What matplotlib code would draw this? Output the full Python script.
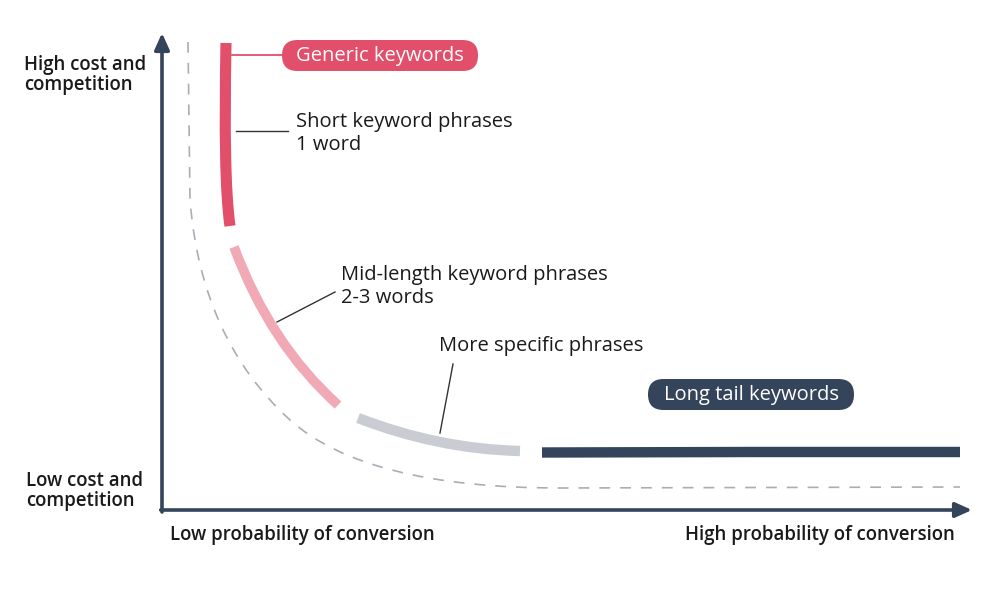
import matplotlib
matplotlib.use("Agg")
import matplotlib.pyplot as plt
from matplotlib.patches import FancyBboxPatch, PathPatch
from matplotlib.path import Path

plt.rcParams['font.family'] = ['Open Sans', 'DejaVu Sans']

# Curve segments as Bezier vertices (pixel coordinates, y downwards)
# short: cubic (start, ctrl, ctrl, end)
short_x = [226, 224.5, 225, 230]
short_y = [43, 130, 190, 226]
# mid-length: quadratic (start, ctrl, end)
mid_x = [234, 270, 338]
mid_y = [247, 344, 405]
# more specific: quadratic (start, ctrl, end)
specific_x = [358, 438, 520]
specific_y = [418, 449, 451]
# long tail: polyline
longtail_x = [542, 750, 960]
longtail_y = [452.5, 452, 452]
# dashed: line, quad, quad, line
dashed_x = [188, 190, 201, 290, 366, 560, 960]
dashed_y = [42, 200, 339, 420, 488, 488, 487]

labels = {
    'generic': 'Generic keywords',
    'short': 'Short keyword phrases',
    'short_sub': '1 word',
    'mid': 'Mid-length keyword phrases',
    'mid_sub': '2-3 words',
    'specific': 'More specific phrases',
    'longtail': 'Long tail keywords',
    'ytop': 'High cost and\ncompetition',
    'ybot': 'Low cost and\ncompetition',
    'xleft': 'Low probability of conversion',
    'xright': 'High probability of conversion',
}

RED = '#e14f6a'
PINK = '#f0a9b5'
GREY = '#c9cdd3'
DARK = '#34445a'
TXT = '#1a1a1a'

fig = plt.figure(figsize=(10.01, 6.0), dpi=100)
ax = fig.add_axes([0, 0, 1, 1])
ax.set_xlim(0, 1001)
ax.set_ylim(600, 0)
ax.axis('off')

def bez(xs, ys, codes, **kw):
    p = PathPatch(Path(list(zip(xs, ys)), codes), fill=False, capstyle='butt', **kw)
    ax.add_patch(p)

# axes arrows
ax.annotate('', xy=(162, 33), xytext=(162, 512),
            arrowprops=dict(arrowstyle='-|>,head_length=1.0,head_width=0.45', color=DARK, lw=2.6, shrinkA=0, shrinkB=0))
ax.annotate('', xy=(972, 510), xytext=(160.7, 510),
            arrowprops=dict(arrowstyle='-|>,head_length=1.0,head_width=0.45', color=DARK, lw=2.6, shrinkA=0, shrinkB=0))

# dashed reference curve
bez(dashed_x, dashed_y,
    [Path.MOVETO, Path.LINETO, Path.CURVE3, Path.CURVE3, Path.CURVE3, Path.CURVE3, Path.LINETO],
    edgecolor='#a9aeb6', lw=1.2, linestyle=(0, (6.5, 6)))

# segments
bez(short_x, short_y, [Path.MOVETO, Path.CURVE4, Path.CURVE4, Path.CURVE4], edgecolor=RED, lw=8)
bez(mid_x, mid_y, [Path.MOVETO, Path.CURVE3, Path.CURVE3], edgecolor=PINK, lw=7.0)
bez(specific_x, specific_y, [Path.MOVETO, Path.CURVE3, Path.CURVE3], edgecolor=GREY, lw=7.5)
ax.plot(longtail_x, longtail_y, color=DARK, lw=7.5, solid_capstyle='butt', solid_joinstyle='round')

# connectors
ax.plot([232, 284], [55, 55], color=RED, lw=1.3)
ax.plot([236, 288], [131, 131], color='#333333', lw=1.0)
ax.plot([277, 335], [322, 292], color='#333333', lw=1.0)
ax.plot([440, 453], [433, 364], color='#333333', lw=1.0)

def pill(x0, y0, w, h, color):
    r = h / 2
    p = FancyBboxPatch((x0 + r, y0 + r), w - 2 * r, 0.001,
                       boxstyle=f'round,pad={r}', fc=color, ec='none')
    ax.add_patch(p)

pill(282, 40, 196, 31, RED)
ax.text(380, 56, labels['generic'], color='white', fontsize=14.5, ha='center', va='center')
pill(648, 379, 206, 31, DARK)
ax.text(751, 395, labels['longtail'], color='white', fontsize=14.5, ha='center', va='center')

fs = 14.5
ax.text(296, 122, labels['short'], color=TXT, fontsize=fs, ha='left', va='center')
ax.text(296, 145, labels['short_sub'], color=TXT, fontsize=fs, ha='left', va='center')
ax.text(341, 275, labels['mid'], color=TXT, fontsize=fs, ha='left', va='center')
ax.text(341, 298, labels['mid_sub'], color=TXT, fontsize=fs, ha='left', va='center')
ax.text(439, 346, labels['specific'], color=TXT, fontsize=fs, ha='left', va='center')

bfs = 13.4
ax.text(24, 75, labels['ytop'], color=TXT, fontsize=bfs, ha='left', va='center',
        fontweight='semibold', linespacing=1.05)
ax.text(26, 491, labels['ybot'], color=TXT, fontsize=bfs, ha='left', va='center',
        fontweight='semibold', linespacing=1.05)
ax.text(170, 535, labels['xleft'], color=TXT, fontsize=bfs, ha='left', va='center', fontweight='semibold')
ax.text(955, 535, labels['xright'], color=TXT, fontsize=bfs, ha='right', va='center', fontweight='semibold')

fig.savefig('out.png', dpi=100)
